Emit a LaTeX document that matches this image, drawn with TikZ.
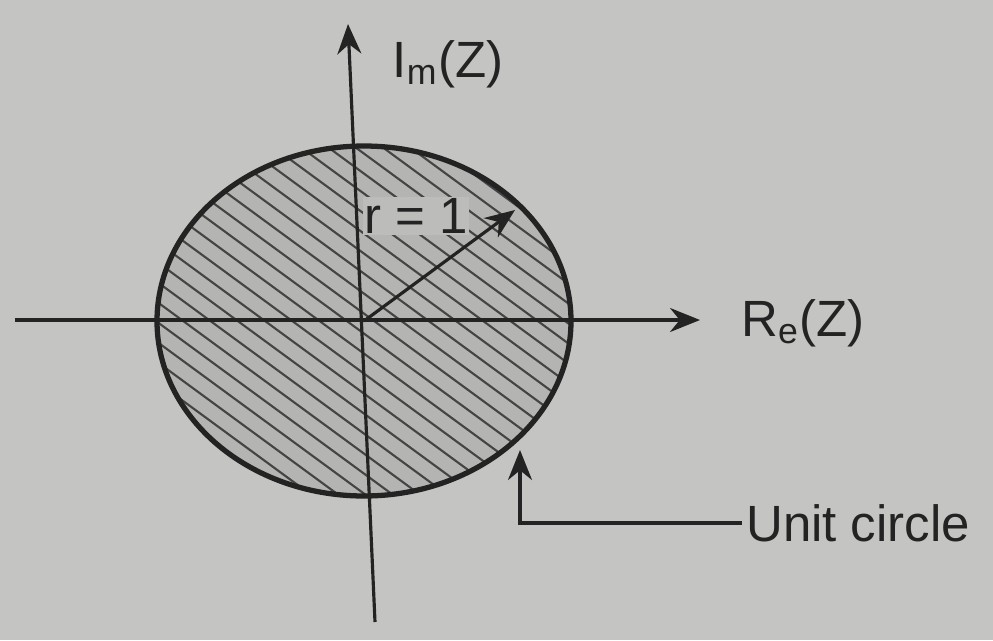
\documentclass[tikz,border=0pt]{standalone}
\usepackage{fontspec}
\setmainfont{Liberation Sans}
\usetikzlibrary{arrows.meta}
\definecolor{scan}{RGB}{196,196,194}
\definecolor{ink}{RGB}{35,35,35}
\tikzset{
  axis/.style={ink,line width=0.9pt},
  hatch/.style={ink!85,line width=0.6pt},
  lbl/.style={ink,font=\fontsize{14.5}{16}\selectfont,inner sep=1pt}
}
\begin{document}
\begin{tikzpicture}[scale=1.0,>={Stealth[length=3mm,width=2.4mm]}]
\fill[scan] (0,0) rectangle (9.93,6.4);
\useasboundingbox (0,0) rectangle (9.93,6.4);
\coordinate (O) at (3.64,3.19);
\fill[scan!92!black] (O) ellipse [x radius=2.07,y radius=1.75];
\begin{scope}
\clip (O) ellipse [x radius=2.07,y radius=1.75];
\foreach \k in {0,...,36} \draw[hatch] (1.0,0.8+\k*0.2) -- ++(6,-4.4);
\end{scope}
\draw[ink,line width=1.5pt] (O) ellipse [x radius=2.07,y radius=1.75];
\coordinate (xl) at (0.15,3.2);
\coordinate (xr) at (7.0,3.2);
\coordinate (yb) at (3.75,0.18);
\coordinate (yt) at (3.48,6.16);
\coordinate (rt) at (5.15,4.3);
\coordinate (uc) at (5.2,1.9);
\draw[axis,->] (xl) -- (xr);
\draw[axis,->] (yb) -- (yt);
\draw[axis,->] (O) -- (rt);
\node[lbl] (im) at (4.48,5.76) {I\textsubscript{m}(Z)};
\node[lbl] (re) at (8.03,3.17) {R\textsubscript{e}(Z)};
\node[lbl,fill=scan!96!black,inner sep=0.3pt] (r) at (4.16,4.24) {r = 1};
\node[lbl,anchor=west] (unit) at (7.42,1.17) {Unit circle};
\draw[axis,->] (unit.west) -| (uc);
\end{tikzpicture}
\end{document}
